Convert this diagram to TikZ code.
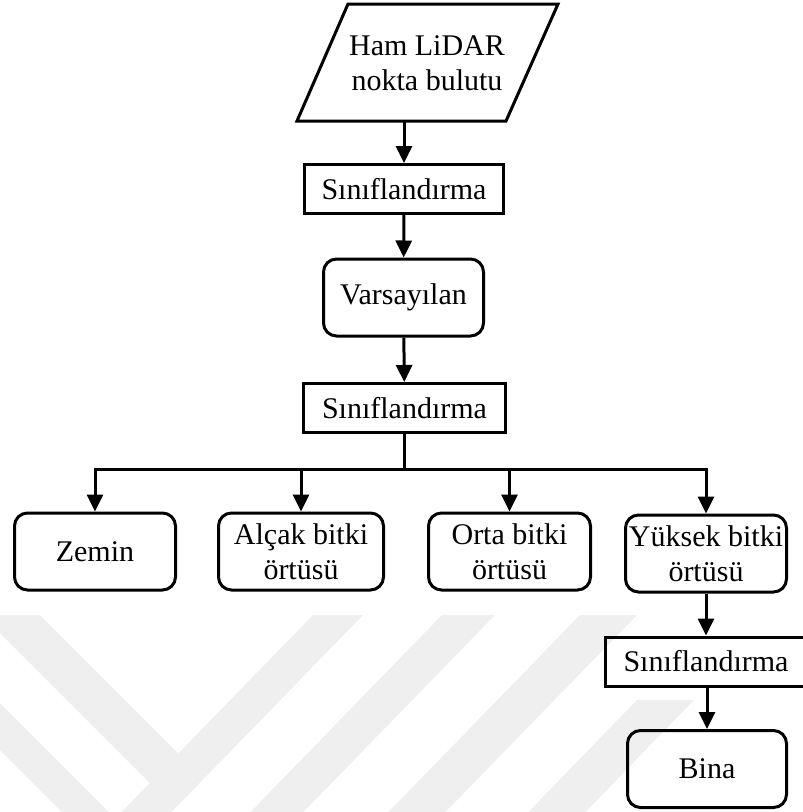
\documentclass[tikz,border=0pt]{standalone}
\usepackage{fontspec}
\setmainfont{Liberation Serif}
\usetikzlibrary{arrows.meta}
\definecolor{wmgray}{HTML}{EFEFEF}
\begin{document}
\begin{tikzpicture}[x=1pt,y=-1pt,
  every node/.style={font=\fontsize{30}{35}\selectfont, align=center, inner sep=0pt},
  procbox/.style={draw, line width=3pt, minimum width=#1, minimum height=49pt},
  termbox/.style={draw, line width=3pt, rounded corners=13pt, minimum width=#1, minimum height=77pt},
  arr/.style={line width=3pt, -{Triangle[length=17pt,width=16pt]}},
  link/.style={line width=3pt},
  wm/.style={fill=wmgray, draw=none}]
\useasboundingbox (0,0) rectangle (803,812);
% watermark
\begin{scope}
  \clip (0,615) rectangle (803,812);
  \fill[wm] (-10,565) -- (178.6,753.6) -- (150,783) -- (-10,623) -- cycle;
  \fill[wm] (-10,693) -- (150,853) -- (103,853) -- (-10,740) -- cycle;
  \fill[wm] (313,615) -- (363,615) -- (154,830) -- (104,830) -- cycle;
  \fill[wm] (442,615) -- (495,615) -- (286,830) -- (233,830) -- cycle;
  \fill[wm] (580,615) -- (637,615) -- (428,830) -- (371,830) -- cycle;
  \fill[wm] (637,700) -- (694,700) -- (568,830) -- (511,830) -- cycle;
\end{scope}
% input parallelogram
\coordinate (p1) at (297,121);
\coordinate (p2) at (348,4);
\coordinate (p3) at (558,4);
\coordinate (p4) at (506,121);
\draw[link, line join=miter] (p1) -- (p2) -- (p3) -- (p4) -- cycle;
\node (ham) at (427,63) {Ham LiDAR\\nokta bulutu};
\coordinate (pb) at (404,121);
% boxes
\node[procbox=199pt] (s1) at (404,189) {S\i n\i flandırma};
\node[termbox=160pt] (var) at (403.5,297.5) {Varsayılan};
\node[procbox=202pt] (s2) at (404.5,408) {S\i n\i flandırma};
\node[termbox=161pt] (zem) at (95,551.5) {Zemin};
\node[termbox=165pt] (alc) at (301,551.5) {Alçak bitki\\örtüsü};
\node[termbox=162pt] (ort) at (509.5,551.5) {Orta bitki\\örtüsü};
\node[termbox=161pt] (yuk) at (706,553.5) {Yüksek bitki\\örtüsü};
\node[procbox=201pt] (s3) at (706,661.5) {S\i n\i flandırma};
\node[termbox=159pt] (bina) at (707,769) {Bina};
% connectors
\draw[arr] (pb) -- (s1.north);
\draw[arr] (s1) -- (var);
\draw[arr] (var) -- (s2);
\coordinate (bus) at (404.5,469);
\draw[link] (s2.south) -- (bus);
\draw[arr] (bus) -| (zem.north);
\draw[arr] (bus) -| (alc.north);
\draw[arr] (bus) -| (ort.north);
\draw[arr] (bus) -| (yuk.north);
\draw[arr] (yuk) -- (yuk.south |- s3.north);
\draw[arr] (s3.south -| bina.north) -- (bina.north);
\end{tikzpicture}
\end{document}
